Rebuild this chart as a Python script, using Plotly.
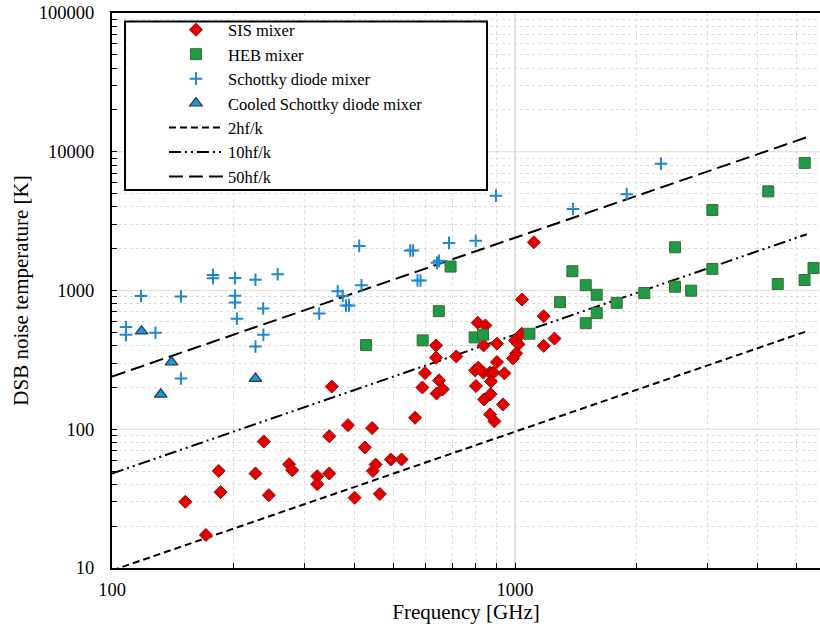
import plotly.graph_objects as go

# ---------------- data ----------------
sis_freq = [152, 171, 184, 186, 227, 238, 245, 275, 280, 323, 323, 346, 346, 351, 385,
            400, 424, 442, 444, 451, 462, 492, 523, 565, 589, 598, 637, 637, 648, 639,
            662, 715, 808, 844, 836, 902, 796, 811, 835, 867, 884, 941, 902, 800, 872,
            838, 870, 934, 867, 889, 1000, 1020, 1007, 989, 1039, 1041, 1114, 1178, 1178, 1253]
sis_temp = [30.0, 17.3, 50.1, 35.2, 48.0, 81.6, 33.5, 56.0, 50.7, 45.9, 40.2, 89.1, 48.0, 203, 107,
            32.1, 73.9, 102, 50.1, 55.7, 34.2, 60.5, 60.5, 121, 200, 254, 402, 328, 225, 181,
            194, 335, 586, 560, 402, 414, 266, 278, 256, 256, 256, 253, 305, 205, 221,
            164, 179, 151, 128, 114, 437, 409, 352, 324, 488, 861, 2226, 653, 399, 450]

heb_freq = [427, 590, 647, 692, 794, 833, 1086, 1293, 1388, 1498, 1498, 1595, 1595, 1788,
            2093, 2495, 2495, 2736, 3088, 3088, 4251, 4487, 5235, 5230, 5504]
heb_temp = [404, 437, 710, 1488, 459, 480, 488, 824, 1377, 1092, 581, 931, 687, 815,
            959, 2049, 1065, 997, 3807, 1432, 5180, 1114, 8308, 1190, 1452]

schottky_freq = [108.3, 108.3, 118, 128.2, 148.3, 148.3, 178.1, 178.1, 202, 202, 202, 204.1,
                 227, 257.7, 237.2, 237.5, 227, 326.7, 363.1, 373.7, 380.8, 387.4, 410.6, 416,
                 549.5, 558.3, 572.9, 582.9, 640.4, 647.8, 685.8, 799.1, 897.3, 1393, 1893, 2303]
schottky_temp = [546, 479, 913, 496, 905, 232, 1293, 1224, 1230, 916, 820, 626,
                 1194, 1308, 742, 480, 395, 683, 987, 913, 780, 780, 2097, 1092,
                 1940, 1940, 1180, 1180, 1582, 1636, 2204, 2282, 4826, 3870, 4946, 8195]

cooled_freq = [118.4, 140.5, 132.1, 227]
cooled_temp = [509, 305, 178.6, 232]

# quantum-limit reference lines: T = n*h*f/k
HK_PER_GHZ = 0.048          # h/k in K per GHz
line_freq = [100, 5300]
line_factors = [2, 10, 50]
line_names = ["2hf/k", "10hf/k", "50hf/k"]

# ---------------- figure ----------------
FONT = "Liberation Serif"
fig = go.Figure()

line_dashes = ["7px,4px", "12px,4px,2px,4px,2px,4px", "14px,6px"]
for n, name, dash in zip(line_factors, line_names, line_dashes):
    fig.add_trace(go.Scatter(
        x=line_freq, y=[n * HK_PER_GHZ * f for f in line_freq],
        mode="lines", name=name, legendrank=1000 + n,
        line=dict(color="black", width=2, dash=dash)))

fig.add_trace(go.Scatter(
    x=sis_freq, y=sis_temp, mode="markers", name="SIS mixer", legendrank=1,
    marker=dict(symbol="diamond", size=10, color="#e50000",
                line=dict(color="#9a0000", width=1))))
fig.add_trace(go.Scatter(
    x=heb_freq, y=heb_temp, mode="markers", name="HEB mixer", legendrank=2,
    marker=dict(symbol="square", size=11, color="#1f9a45",
                line=dict(color="#3b6b35", width=1))))
fig.add_trace(go.Scatter(
    x=schottky_freq, y=schottky_temp, mode="markers", name="Schottky diode mixer", legendrank=3,
    marker=dict(symbol="cross-thin", size=9, color="#1f86d0",
                line=dict(color="#1f86d0", width=2))))
fig.add_trace(go.Scatter(
    x=cooled_freq, y=cooled_temp, mode="markers", name="Cooled Schottky diode mixer", legendrank=4,
    marker=dict(symbol="triangle-up", size=11, color="#2196d3",
                line=dict(color="#1b3d5e", width=1.2))))

xticks = [m * 10 ** e for e in range(2, 4) for m in range(1, 10)]
yticks = [m * 10 ** e for e in range(1, 5) for m in range(1, 10)] + [100000]

def labels(vals):
    out = []
    for v in vals:
        s = str(int(v))
        out.append(s if s.startswith("1") and set(s[1:]) <= {"0"} else "")
    return out

axis_common = dict(
    type="log", showline=True, linecolor="black", linewidth=2,
    ticks="inside", ticklen=5, tickwidth=1.2, tickcolor="black",
    showgrid=True, gridcolor="#dcdcdc", griddash="dot", gridwidth=1,
    zeroline=False, automargin=False,
    tickfont=dict(family=FONT, size=18.5, color="black"),
)

fig.update_xaxes(axis_common, range=[2, 3.7568], tickvals=xticks, ticktext=labels(xticks),
                 mirror=True, ticklabelstandoff=4,
                 title=dict(text="Frequency [GHz]", font=dict(family=FONT, size=21, color="black"),
                            standoff=4))
fig.update_yaxes(axis_common, range=[1, 5], tickvals=yticks, ticktext=labels(yticks),
                 ticklabelstandoff=12,
                 title=dict(text="DSB noise temperature [K]", font=dict(family=FONT, size=21, color="black"),
                            standoff=4))

shapes = [dict(type="line", xref="x", yref="paper", x0=1000, x1=1000, y0=0, y1=1,
               line=dict(color="#d6d6d6", width=1.5), layer="below")]
for yv in [100, 1000, 10000]:
    shapes.append(dict(type="line", xref="paper", yref="y", x0=0, x1=1, y0=yv, y1=yv,
                       line=dict(color="#eee9da", width=1.5), layer="below"))
# legend frame
shapes.append(dict(type="rect", xref="paper", yref="paper",
                   x0=0.0184, x1=0.5297, y0=0.6810, y1=0.9847,
                   line=dict(color="black", width=2), fillcolor="white", layer="above"))

fig.update_layout(
    width=820, height=628,
    margin=dict(l=112, r=0, t=13, b=60),
    paper_bgcolor="white", plot_bgcolor="white",
    font=dict(family=FONT, color="black"),
    shapes=shapes,
    showlegend=True,
    legend=dict(x=0.0734, y=1.0009, xanchor="left", yanchor="top",
                bgcolor="rgba(0,0,0,0)", borderwidth=0, itemwidth=54,
                font=dict(family=FONT, size=16.5, color="black"),
                traceorder="normal"),
)

fig.write_html("out.html", config={"displayModeBar": False},
               post_script="document.body.style.margin='0';document.body.style.overflow='hidden';")
